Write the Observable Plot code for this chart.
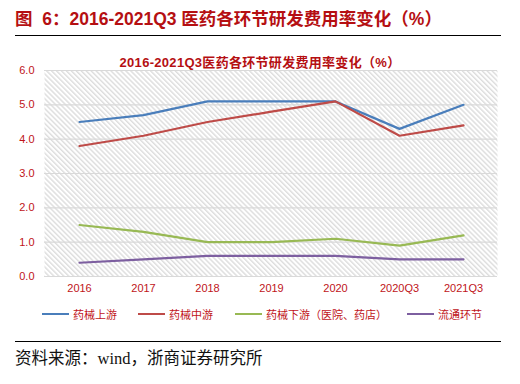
<!DOCTYPE html>
<html><head><meta charset="utf-8">
<script src="https://cdn.jsdelivr.net/npm/d3@7"></script>
<script src="https://cdn.jsdelivr.net/npm/@observablehq/plot@0.6"></script>
<style>
body{margin:0;background:#fff;width:520px;height:384px;position:relative;overflow:hidden;font-family:"Liberation Sans","Noto Sans CJK SC",sans-serif;}
.abs{position:absolute;white-space:nowrap;line-height:1;}
#title{left:15px;top:11px;font-size:17.5px;font-weight:bold;color:#b50f12;font-family:"Liberation Sans","Noto Sans CJK SC",sans-serif;}
.rule{left:15px;width:486px;height:0;border-top:1.5px solid #000;}
#ctitle{left:0;width:520px;text-align:center;top:56px;font-size:13px;font-weight:bold;color:#b50f12;letter-spacing:0.3px;font-family:"Liberation Sans","Noto Sans CJK SC",sans-serif;}
#chart{left:0;top:55px;}
#legend{top:306px;left:0;width:520px;font-size:11px;color:#c0141a;font-family:"Noto Sans CJK SC",sans-serif;}
.item{position:absolute;top:0;display:flex;align-items:center;height:16px;}
.sw{width:27px;height:0;border-top:2.5px solid;margin-right:4px;}
#source{left:15px;top:351px;font-size:16.5px;color:#111;font-family:"Liberation Serif","Noto Sans CJK SC",serif;}
</style></head>
<body>
<div id="title" class="abs">图&nbsp;&nbsp;6：2016-2021Q3 医药各环节研发费用率变化（%）</div>
<div class="abs rule" style="top:35px"></div>
<div id="chart" class="abs"></div>
<div id="ctitle" class="abs">2016-2021Q3医药各环节研发费用率变化（%）</div>
<div id="legend" class="abs"></div>
<div class="abs rule" style="top:341px"></div>
<div id="source" class="abs">资料来源：wind，浙商证券研究所</div>
<script>
const periods = ["2016","2017","2018","2019","2020","2020Q3","2021Q3"];
const seriesNames = ["药械上游","药械中游","药械下游（医院、药店）","流通环节"];
const seriesColors = ["#4a7ebb","#be4b48","#98b954","#7d5fa0"];
const upstream = [4.5,4.7,5.1,5.1,5.1,4.3,5.0];
const midstream = [3.8,4.1,4.5,4.8,5.1,4.1,4.4];
const downstream = [1.5,1.3,1.0,1.0,1.1,0.9,1.2];
const distribution = [0.4,0.5,0.6,0.6,0.6,0.5,0.5];
const yTicks = [0,1,2,3,4,5,6];

const allSeries = [upstream, midstream, downstream, distribution];
const data = [];
allSeries.forEach((vals, si) => vals.forEach((v, i) => data.push({period: periods[i], value: v, series: seriesNames[si]})));

const chart = Plot.plot({
  width: 520, height: 245,
  marginLeft: 44, marginRight: 23, marginTop: 15, marginBottom: 24,
  style: {fontFamily: "Liberation Sans, Arial, sans-serif", fontSize: "11px", color: "#c0141a", background: "transparent"},
  x: {type: "point", domain: periods, padding: 0.5, label: null, tickSize: 0, tickPadding: 8},
  y: {domain: [0, 6], ticks: yTicks, tickFormat: d => d.toFixed(1), label: null, tickSize: 0, tickPadding: 10},
  color: {domain: seriesNames, range: seriesColors},
  marks: [
    Plot.frame({fill: "url(#hatch)", stroke: null}),
    Plot.gridY(yTicks, {stroke: "#d9d9d9", strokeOpacity: 1, strokeWidth: 1.2}),
    Plot.lineY(data, {x: "period", y: "value", z: "series", stroke: "series", strokeWidth: 2.2}),
  ]
});
const svg = d3.select(chart);
const defs = svg.insert("defs", ":first-child");
const pat = defs.append("pattern").attr("id","hatch").attr("patternUnits","userSpaceOnUse").attr("width",3.5).attr("height",3.5).attr("patternTransform","rotate(-45)");
pat.append("rect").attr("width",3.5).attr("height",3.5).attr("fill","#ffffff");
pat.append("line").attr("x1",0.75).attr("y1",0).attr("x2",0.75).attr("y2",3.5).attr("stroke","#d6d6d6").attr("stroke-width",1.2);
svg.selectAll("g[aria-label='x-axis tick label'] text, g[aria-label='y-axis tick label'] text").attr("fill","#c0141a");
document.getElementById("chart").appendChild(chart);

const legend = document.getElementById("legend");
const lx = [42, 138, 235, 407];
seriesNames.forEach((n, i) => {
  const it = document.createElement("div");
  it.className = "item"; it.style.left = lx[i] + "px";
  it.innerHTML = `<div class="sw" style="border-color:${seriesColors[i]}"></div><span>${n}</span>`;
  legend.appendChild(it);
});
</script>
</body></html>
